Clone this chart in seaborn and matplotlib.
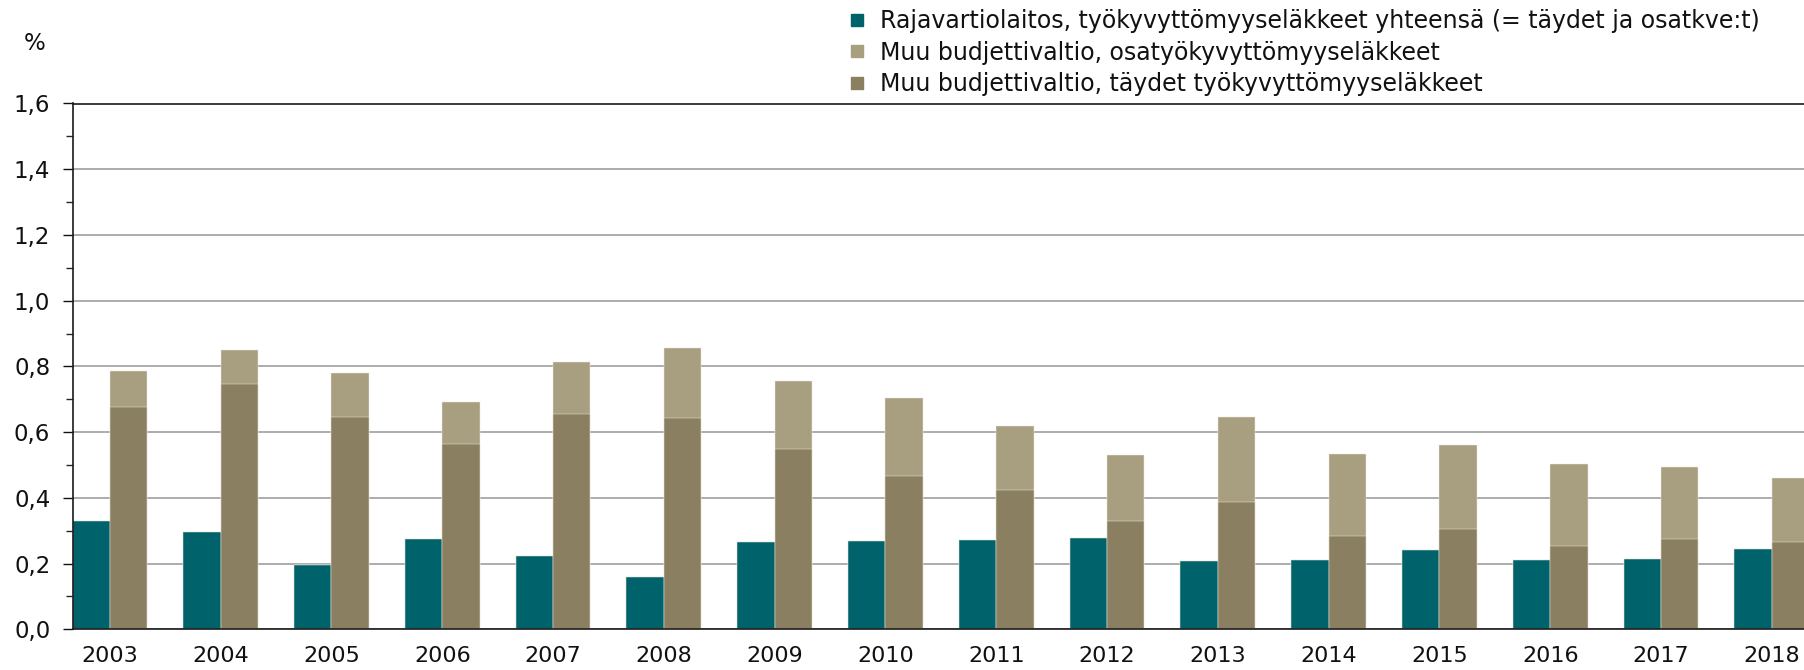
import numpy as np
import pandas as pd
import matplotlib
matplotlib.use("Agg")
import matplotlib.pyplot as plt
import seaborn as sns
from matplotlib.lines import Line2D
from matplotlib.ticker import MultipleLocator, FuncFormatter

# --- data ---
years = [str(y) for y in range(2003, 2019)]
raja_total = [0.331, 0.296, 0.196, 0.276, 0.222, 0.159, 0.265, 0.269,
              0.273, 0.277, 0.207, 0.211, 0.242, 0.211, 0.215, 0.245]
muu_taydet = [0.676, 0.746, 0.645, 0.563, 0.656, 0.642, 0.549, 0.467,
              0.424, 0.331, 0.386, 0.284, 0.305, 0.254, 0.276, 0.265]
muu_yhteensa = [0.785, 0.851, 0.781, 0.692, 0.812, 0.855, 0.757, 0.704,
                0.618, 0.529, 0.646, 0.533, 0.560, 0.503, 0.495, 0.460]

labels = [
    "Rajavartiolaitos, työkyvyttömyyseläkkeet yhteensä (= täydet ja osatkve:t)",
    "Muu budjettivaltio, osatyökyvyttömyyseläkkeet",
    "Muu budjettivaltio, täydet työkyvyttömyyseläkkeet",
]

teal = "#00626A"
light = "#A89E80"
dark = "#8A7F60"

# long tables: back layer = totals, front layer = full pensions
back = pd.DataFrame({
    "year": years * 2,
    "group": ["raja"] * len(years) + ["muu"] * len(years),
    "value": raja_total + muu_yhteensa,
})
front = pd.DataFrame({
    "year": years * 2,
    "group": ["raja"] * len(years) + ["muu"] * len(years),
    "value": raja_total + muu_taydet,
})

sns.set_style("white")
plt.rcParams["font.family"] = ["DejaVu Sans"]

fig = plt.figure(figsize=(18.04, 6.70), dpi=100)
W, H = 1804, 670
ax = fig.add_axes([72.5 / W, (H - 629.3) / H, 1 - 72.5 / W, (629.3 - 103.5) / H])

kw = dict(x="year", y="value", hue="group", hue_order=["raja", "muu"],
          order=years, width=0.675, errorbar=None, saturation=1,
          edgecolor="#ebe8df", linewidth=0.35, ax=ax, legend=False)
sns.barplot(data=back, palette=[teal, light], **kw)
sns.barplot(data=front, palette=[teal, dark], **kw)

ax.set_xlim(-0.3375, 15.29)
ax.set_ylim(0, 1.6)
ax.yaxis.set_major_locator(MultipleLocator(0.2))
ax.yaxis.set_minor_locator(MultipleLocator(0.1))
ax.yaxis.set_major_formatter(FuncFormatter(lambda v, p: f"{v:.1f}".replace(".", ",")))
ax.grid(axis="y", which="major", color="#a6a6a6", linewidth=1.3)
ax.set_axisbelow(True)

for side in ["left", "bottom", "top"]:
    ax.spines[side].set_visible(True)
    ax.spines[side].set_color("#1a1a1a")
    ax.spines[side].set_linewidth(1.2)
ax.spines["right"].set_visible(False)

ax.tick_params(axis="y", which="major", left=True, length=7, width=1,
               pad=9, labelsize=16.5, colors="#111111")
ax.tick_params(axis="y", which="minor", left=True, length=5, width=1)
ax.tick_params(axis="x", length=0, pad=12, labelsize=16, colors="#111111")
ax.set_xlabel("")
ax.set_ylabel("")

fig.text(34.5 / W, 1 - 43.7 / H, "%", fontsize=16.5, ha="center", va="center",
         color="#111111")

handles = [Line2D([], [], marker="s", linestyle="none", markersize=9,
                  markerfacecolor=c, markeredgecolor=c)
           for c in [teal, light, dark]]
fig.legend(handles, labels, loc="upper left",
           bbox_to_anchor=(848 / W, 1 - 9 / H), frameon=False,
           fontsize=17, handlelength=0.8, handletextpad=0.55,
           labelspacing=0.32, borderpad=0, borderaxespad=0,
           labelcolor="#111111")

fig.savefig("out.png", dpi=100)
